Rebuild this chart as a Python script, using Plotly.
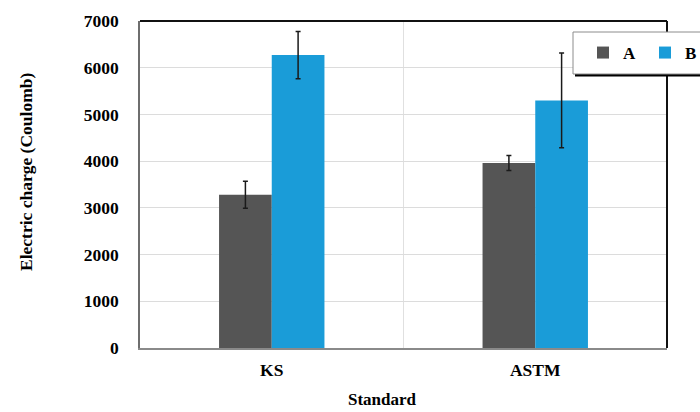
import plotly.graph_objects as go

# Electric charge passed (Coulomb) by test standard, two mixes
standards = ["KS", "ASTM"]
mix_a = [3280, 3960]
mix_b = [6270, 5300]
err_a = [290, 160]
err_b = [505, 1015]
y_ticks = [0, 1000, 2000, 3000, 4000, 5000, 6000, 7000]

FONT = "Liberation Serif"
W, H = 700, 412
L, R, T, B = 140, 33, 21, 64
PW, PH = W - L - R, H - T - B


def px_x(x):
    return (x - L) / PW


def px_y(y):
    return (H - B - y) / PH


err_style = dict(type="data", thickness=1.5, width=2.5, color="#1a1a1a")

fig = go.Figure()
fig.add_trace(go.Bar(
    name="<b>A</b>", x=standards, y=mix_a, marker=dict(color="#555555", line=dict(width=0)),
    error_y=dict(array=err_a, **err_style),
))
fig.add_trace(go.Bar(
    name="<b>B</b>", x=standards, y=mix_b, marker=dict(color="#1a9cd8", line=dict(width=0)),
    error_y=dict(array=err_b, **err_style),
))

shapes = [
    # divider between the two categories
    dict(type="line", xref="x", yref="paper", x0=0.5, x1=0.5, y0=0, y1=1,
         line=dict(color="#e0e0e0", width=1), layer="below"),
    # dark top and right border of the plot frame
    dict(type="line", xref="paper", yref="paper", x0=0, x1=1, y0=1, y1=1,
         line=dict(color="#111111", width=2), layer="above"),
    dict(type="line", xref="paper", yref="paper", x0=1, x1=1, y0=0, y1=1,
         line=dict(color="#111111", width=2), layer="above"),
    # legend box with a drop shadow
    dict(type="rect", xref="paper", yref="paper",
         x0=px_x(575), x1=px_x(712), y0=px_y(76.5), y1=px_y(34),
         fillcolor="#000000", line=dict(width=0), layer="above"),
    dict(type="rect", xref="paper", yref="paper",
         x0=px_x(573), x1=px_x(710), y0=px_y(74), y1=px_y(32),
         fillcolor="#ffffff", line=dict(color="#8c8c8c", width=1), layer="above"),
]

annotations = [
    dict(text="<b>Electric charge (Coulomb)</b>", textangle=-90, xref="paper", yref="paper",
         x=px_x(26), y=px_y(172), xanchor="center", yanchor="middle", showarrow=False,
         font=dict(family=FONT, size=17.5, color="#000000")),
    dict(text="<b>Standard</b>", xref="paper", yref="paper",
         x=px_x(382), y=px_y(399), xanchor="center", yanchor="middle", showarrow=False,
         font=dict(family=FONT, size=17, color="#000000")),
]

fig.update_layout(
    width=W, height=H,
    margin=dict(l=L, r=R, t=T, b=B, autoexpand=False),
    paper_bgcolor="#ffffff", plot_bgcolor="#ffffff",
    barmode="group", bargap=0.6, bargroupgap=0,
    font=dict(family=FONT, color="#000000"),
    showlegend=True,
    legend=dict(
        orientation="h", x=px_x(583), y=px_y(53), xanchor="left", yanchor="middle",
        bgcolor="rgba(0,0,0,0)", borderwidth=0,
        font=dict(family=FONT, size=17, color="#000000"),
        entrywidth=17, entrywidthmode="pixels", itemwidth=30,
    ),
    shapes=shapes,
    annotations=annotations,
)

fig.update_xaxes(
    showgrid=False, showline=True, linecolor="#8a8a8a", linewidth=1.5,
    ticks="", ticklabelstandoff=5,
    tickfont=dict(family=FONT, size=17.5, color="#000000"),
    tickvals=standards, ticktext=[f"<b>{s}</b>" for s in standards],
)
fig.update_yaxes(
    range=[0, 7000], tickvals=y_ticks, ticktext=[f"<b>{v}</b>" for v in y_ticks],
    showgrid=True, gridcolor="#dcdcdc", gridwidth=1, zeroline=False,
    showline=True, linecolor="#6e6e6e", linewidth=1.5,
    ticks="", ticklabelstandoff=16,
    tickfont=dict(family=FONT, size=17.5, color="#000000"),
)

fig.write_html("out.html")
